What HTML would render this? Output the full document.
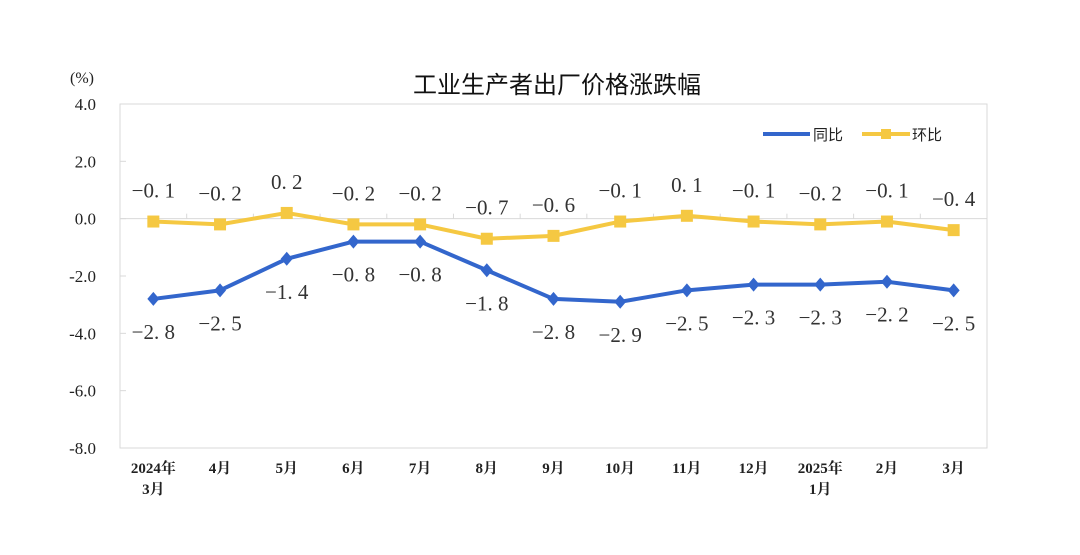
<!DOCTYPE html>
<html><head><meta charset="utf-8"><style>
body{margin:0;background:#fff;}
svg text{font-family:"Liberation Serif","Noto Serif CJK SC",serif;}
</style></head><body>
<svg width="1080" height="550" xmlns="http://www.w3.org/2000/svg">
<text x="557" y="93" text-anchor="middle" font-size="24" fill="#111" style="font-family:'Noto Sans CJK SC',sans-serif">工业生产者出厂价格涨跌幅</text>
<text x="82" y="83" text-anchor="middle" font-size="16" fill="#222">(%)</text>
<rect x="120" y="104" width="867" height="344" fill="none" stroke="#d9d9d9"/>
<g id="yaxis"></g><g id="xaxis"></g><g id="series"></g>
<g>
<line x1="763" y1="134" x2="810" y2="134" stroke="#3366cc" stroke-width="4"/>
<text x="813" y="140" font-size="15" fill="#222" style="font-family:'Noto Sans CJK SC',sans-serif">同比</text>
<line x1="862" y1="134" x2="910" y2="134" stroke="#f5c842" stroke-width="4"/>
<rect x="881" y="129" width="10" height="10" fill="#f5c842"/>
<text x="912" y="140" font-size="15" fill="#222" style="font-family:'Noto Sans CJK SC',sans-serif">环比</text>
</g>
</svg>
<script>
const categories=[["2024年","3月"],["4月"],["5月"],["6月"],["7月"],["8月"],["9月"],["10月"],["11月"],["12月"],["2025年","1月"],["2月"],["3月"]];
const yoy=[-2.8,-2.5,-1.4,-0.8,-0.8,-1.8,-2.8,-2.9,-2.5,-2.3,-2.3,-2.2,-2.5];
const mom=[-0.1,-0.2,0.2,-0.2,-0.2,-0.7,-0.6,-0.1,0.1,-0.1,-0.2,-0.1,-0.4];
const yTicks=[4,2,0,-2,-4,-6,-8];
const NS="http://www.w3.org/2000/svg";
const L=120,R=987,T=104,B=448,yMin=-8,yMax=4;
const step=(R-L)/categories.length;
function x(i){return L+step*(i+0.5);}
function y(v){return B-(v-yMin)/(yMax-yMin)*(B-T);}
function mk(tag,attrs,parent,txt){const e=document.createElementNS(NS,tag);for(const k in attrs)e.setAttribute(k,attrs[k]);if(txt!=null)e.textContent=txt;parent.appendChild(e);return e;}
const ya=document.getElementById('yaxis'),xa=document.getElementById('xaxis'),sg=document.getElementById('series');
yTicks.forEach(v=>{
 const t=mk('text',{x:96,y:y(v)+6,'text-anchor':'end','font-size':17,fill:'#222'},ya,v.toFixed(1));
 
 
 const l=mk('line',{x1:L,x2:L+6,y1:y(v),y2:y(v),stroke:'#d9d9d9'},ya);
 
 
});
const z=mk('line',{x1:L,x2:R,y1:y(0),y2:y(0),stroke:'#d9d9d9'},xa);


for(let i=1;i<categories.length;i++){
 const l=mk('line',{x1:L+step*i,x2:L+step*i,y1:y(0),y2:y(0)-5,stroke:'#d9d9d9'},xa);
 
 
}
categories.forEach((c,i)=>{
 c.forEach((s,j)=>{
  const t=mk('text',{x:x(i),y:473+j*21,'text-anchor':'middle','font-size':15,'font-weight':'bold',fill:'#222'},xa,s);
  
  
 });
});
function fmt(v){return v.toFixed(1).replace('.', '. ').replace('-','−');}
function series(data,color,name,marker,off){
 const p=mk('polyline',{points:data.map((v,i)=>x(i)+','+y(v)).join(' '),fill:'none',stroke:color,'stroke-width':4,'stroke-linejoin':'round'},sg);
 
 
 data.forEach((v,i)=>{
  let m;
  if(marker==='square'){m=mk('rect',{x:x(i)-6,y:y(v)-6,width:12,height:12,fill:color},sg);}
  else{const cx=x(i),cy=y(v);m=mk('polygon',{points:`${cx},${cy-7} ${cx+6},${cy} ${cx},${cy+7} ${cx-6},${cy}`,fill:color},sg);}
  
  
  const t=mk('text',{x:x(i),y:y(v)+off,'text-anchor':'middle','font-size':21,fill:'#333'},sg,fmt(v));
  
  
 });
}
series(mom,'#f5c842','mom','square',-24);
series(yoy,'#3366cc','yoy','diamond',40);
</script>
</body></html>
